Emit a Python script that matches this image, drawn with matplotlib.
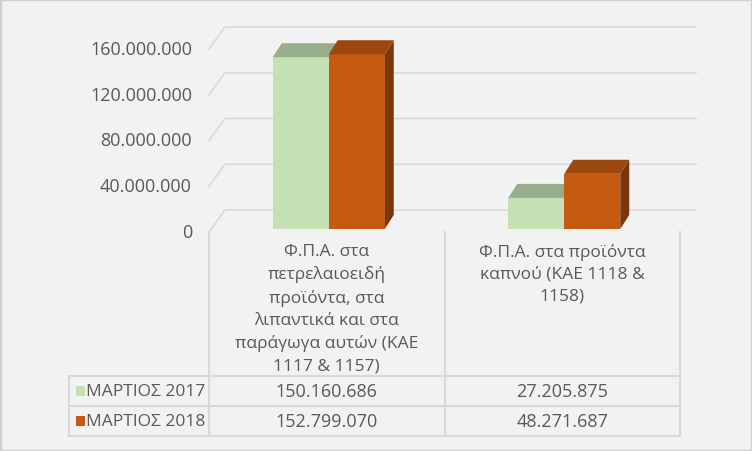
import matplotlib
matplotlib.use('Agg')
import matplotlib.pyplot as plt
import matplotlib.transforms as mtransforms
from matplotlib.patches import Polygon, Rectangle

# ---- data ----
categories = ['Φ.Π.Α. στα\nπετρελαιοειδή\nπροϊόντα, στα\nλιπαντικά και στα\nπαράγωγα αυτών (ΚΑΕ\n1117 & 1157)',
              'Φ.Π.Α. στα προϊόντα\nκαπνού (ΚΑΕ 1118 &\n1158)']
series_names = ['ΜΑΡΤΙΟΣ 2017', 'ΜΑΡΤΙΟΣ 2018']
mar_2017 = [150160686, 27205875]
mar_2018 = [152799070, 48271687]
yticks = [0, 40000000, 80000000, 120000000, 160000000]

front_col = ['#C5E0B4', '#C55A11']
top_col   = ['#98AD8B', '#9C470D']
side_col  = ['#7E9672', '#7A370A']
TXT  = '#595959'
GRID = '#D9D9D9'
BG   = '#F2F2F2'
FONT = ['Open Sans', 'DejaVu Sans']
FS   = 13      # numbers
FS_T = 12.5    # greek text

W, H = 752, 452
fig = plt.figure(figsize=(W / 100, H / 100), dpi=100, facecolor=BG)
fig.patches.append(Rectangle((0, 0), 1, 1, transform=fig.transFigure, fill=False,
                             ec='#D0D0D0', lw=2.5))

# axes = front plane of the floor, pixels 209..680 wide, 0 at y=233
X0, X1, Y0, YT = 209, 680, 233, 28
ax = fig.add_axes([X0 / W, 1 - Y0 / H, (X1 - X0) / W, (Y0 - YT) / H])
ax.set_facecolor('none')
ax.axis('off')
XU = 2.0 / (X1 - X0)          # data units per pixel (x)
YU = 160e6 / 183              # data units per pixel (y)
ax.set_xlim(-0.5, 1.5)
ax.set_ylim(0, (Y0 - YT) * YU)

# 3d depth offsets
DX, DY = 16 * XU, 22 * YU      # full depth of floor / walls
BX, BY = 2 * XU, 3 * YU        # bar front plane offset
bdx, bdy = 9 * XU, 14 * YU     # bar depth
bw = 56 * XU

# gridlines: left side wall diagonals + back wall
for v in yticks:
    ax.plot([-0.5, -0.5 + DX, 1.5 + DX], [v, v + DY, v + DY], color=GRID, lw=1.2,
            clip_on=False, zorder=1)
    ax.text(-0.5 - 17 * XU, v, f'{v:,}'.replace(',', '.'), ha='right', va='center',
            color=TXT, fontsize=FS, family=FONT)

# bars
for i, vals in enumerate([mar_2017, mar_2018]):
    for c, v in enumerate(vals):
        x0 = c + BX + (i - 1) * bw
        ax.bar(x0, v, width=bw, bottom=BY, align='edge', color=front_col[i],
               lw=0, zorder=3 + i * 3)
        t = BY + v
        ax.add_patch(Polygon([(x0, t), (x0 + bw, t), (x0 + bw + bdx, t + bdy), (x0 + bdx, t + bdy)],
                             closed=True, fc=top_col[i], lw=0, zorder=4 + i * 3, clip_on=False))
        ax.add_patch(Polygon([(x0 + bw, BY), (x0 + bw, t), (x0 + bw + bdx, t + bdy),
                              (x0 + bw + bdx, BY + bdy)],
                             closed=True, fc=side_col[i], lw=0, zorder=2 + i * 3, clip_on=False))

# ---- data table below ----
tr = mtransforms.blended_transform_factory(ax.transData, fig.transFigure)
fy = lambda py: 1 - py / H
LEFT = -0.5 - 140 * XU
rows_y = [377, 407, 437]
for py in rows_y:
    ax.plot([LEFT, 1.5], [fy(py), fy(py)], color=GRID, lw=1.5, transform=tr, clip_on=False)
for xb in [-0.5, 0.5, 1.5]:
    ax.plot([xb, xb], [fy(233), fy(437)], color=GRID, lw=1.5, transform=tr, clip_on=False)
ax.plot([LEFT, LEFT], [fy(377), fy(437)], color=GRID, lw=1.5, transform=tr, clip_on=False)

for c, lab in enumerate(categories):
    ax.text(c, fy(244), lab, ha='center', va='top', color=TXT, fontsize=FS_T, family=FONT,
            linespacing=1.5, transform=tr)

for i, (name, vals) in enumerate(zip(series_names, [mar_2017, mar_2018])):
    yc = fy((rows_y[i] + rows_y[i + 1]) / 2)
    ax.add_patch(Rectangle((LEFT + 7 * XU, yc - 5 / H), 9 * XU, 10 / H, transform=tr,
                           fc=front_col[i], lw=0, clip_on=False))
    ax.text(LEFT + 17 * XU, yc, name, ha='left', va='center', color=TXT, fontsize=FS_T,
            family=FONT, transform=tr)
    for c, v in enumerate(vals):
        ax.text(c, yc, f'{v:,}'.replace(',', '.'), ha='center', va='center', color=TXT,
                fontsize=FS, family=FONT, transform=tr)

fig.savefig('out.png', dpi=100, facecolor=BG)
